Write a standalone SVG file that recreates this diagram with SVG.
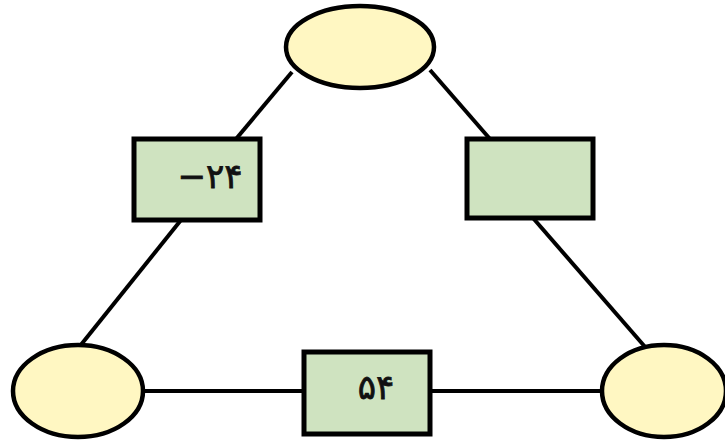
<svg xmlns="http://www.w3.org/2000/svg" width="725" height="440" viewBox="0 0 725 440">
<style>
.node ellipse{fill:#fff7c2;stroke:#000;stroke-width:4.5}
.node rect{fill:#cfe3c0;stroke:#000;stroke-width:5}
.edges line{stroke:#000;stroke-width:4}
text{font-family:"DejaVu Sans","Noto Sans",sans-serif;font-size:34px;font-weight:normal;fill:#111;stroke:#111;stroke-width:0.8;text-anchor:middle;dominant-baseline:central}
</style>
<rect width="725" height="440" fill="#fff"/>
<g class="edges">
<line x1="292" y1="72" x2="236" y2="139"/>
<line x1="181" y1="220" x2="80" y2="346"/>
<line x1="430" y1="70" x2="490" y2="139"/>
<line x1="533" y1="218" x2="646" y2="348"/>
<line x1="143" y1="391" x2="304" y2="391"/>
<line x1="430" y1="391" x2="603" y2="391"/>
</g>
<g id="top" class="node"><ellipse cx="360" cy="47" rx="74" ry="41"/></g>
<g id="bl" class="node"><ellipse cx="78" cy="391" rx="65" ry="46"/></g>
<g id="br" class="node"><ellipse cx="664" cy="391" rx="62" ry="46"/></g>
<g id="rleft" class="node"><rect x="134" y="139" width="126" height="81"/><text x="210" y="176">−۲۴</text></g>
<g id="rright" class="node"><rect x="467" y="139" width="126" height="79"/></g>
<g id="rbottom" class="node"><rect x="304" y="352" width="126" height="82"/><text x="376" y="387">۵۴</text></g>
</svg>
